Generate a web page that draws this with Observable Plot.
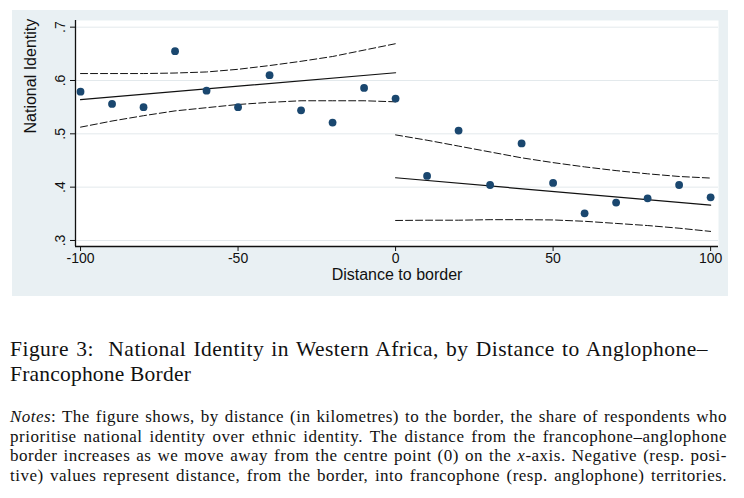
<!DOCTYPE html>
<html>
<head>
<meta charset="utf-8">
<script src="https://cdn.jsdelivr.net/npm/d3@7"></script>
<script src="https://cdn.jsdelivr.net/npm/@observablehq/plot@0.6"></script>
<style>
  html, body { margin: 0; padding: 0; background: #fff; }
  body { width: 744px; height: 498px; position: relative; overflow: hidden; }
  #panel { position: absolute; left: 12px; top: 10px; width: 716px; height: 286px; background: #e9f0f3; }
  .cap { position: absolute; left: 10px; font-family: "Liberation Serif", serif; color: #111; white-space: nowrap; }
  .c1 { font-size: 21.5px; line-height: 25px; }
  .n1 { font-size: 17px; line-height: 19.5px; }
  .just { text-align: justify; text-align-last: justify; }
</style>
</head>
<body>
<div id="panel"></div>
<div class="cap c1 just" data-w="698" style="top:337px; width:698px;">Figure 3:&nbsp; National Identity in Western Africa, by Distance to Anglophone–</div>
<div class="cap c1" data-w="181" style="top:362px;">Francophone Border</div>
<div class="cap n1 just" data-w="717" style="top:407px; width:717px;"><i>Notes</i>: The figure shows, by distance (in kilometres) to the border, the share of respondents who</div>
<div class="cap n1 just" data-w="717" style="top:426.5px; width:717px;">prioritise national identity over ethnic identity. The distance from the francophone–anglophone</div>
<div class="cap n1 just" data-w="717" style="top:446px; width:717px;">border increases as we move away from the centre point (0) on the <i>x</i>-axis. Negative (resp. posi-</div>
<div class="cap n1 just" data-w="717" style="top:465.5px; width:717px;">tive) values represent distance, from the border, into francophone (resp. anglophone) territories.</div>
<script>
// Binned scatter: distance to border (km) and share prioritising national identity
const xLeft  = [-100, -90, -80, -70, -60, -50, -40, -30, -20, -10, 0];
const yLeft  = [0.579, 0.556, 0.550, 0.655, 0.581, 0.550, 0.610, 0.544, 0.521, 0.586, 0.566];
const xRight = [10, 20, 30, 40, 50, 60, 70, 80, 90, 100];
const yRight = [0.421, 0.506, 0.404, 0.482, 0.408, 0.351, 0.371, 0.379, 0.404, 0.381];

// Linear fits (endpoints)
const fitLeftX  = [-100, 0];
const fitLeftY  = [0.564, 0.6145];
const fitRightX = [0, 100];
const fitRightY = [0.4176, 0.3663];

// Confidence bands
const ciLeftX  = [-100, -90, -80, -70, -60, -50, -40, -30, -20, -10, 0];
const ciLeftHi = [0.613, 0.613, 0.613, 0.614, 0.616, 0.621, 0.628, 0.636, 0.645, 0.657, 0.669];
const ciLeftLo = [0.5125, 0.524, 0.534, 0.543, 0.549, 0.555, 0.559, 0.562, 0.562, 0.562, 0.560];
const ciRightX  = [0, 10, 20, 30, 40, 50, 60, 70, 80, 90, 100];
const ciRightHi = [0.498, 0.488, 0.477, 0.466, 0.455, 0.446, 0.438, 0.431, 0.425, 0.420, 0.417];
const ciRightLo = [0.3375, 0.338, 0.338, 0.339, 0.339, 0.3385, 0.336, 0.332, 0.328, 0.323, 0.317];

const xTicks = [-100, -50, 0, 50, 100];
const yTicks = [0.3, 0.4, 0.5, 0.6, 0.7];
const xTitle = "Distance to border";
const yTitle = "National Identity";

const xDomain = [-101.6, 102.5];
const yDomain = [0.2887, 0.7125];

const pts = xLeft.map((x, i) => ({x, y: yLeft[i]})).concat(xRight.map((x, i) => ({x, y: yRight[i]})));
const zip = (xs, ys) => xs.map((x, i) => ({x, y: ys[i]}));

const chart = Plot.plot({
  width: 716,
  height: 286,
  marginLeft: 63,
  marginRight: 10,
  marginTop: 10,
  marginBottom: 50,
  style: { background: "transparent", fontFamily: "Liberation Sans, Arial, sans-serif", color: "#111" },
  x: { domain: xDomain },
  y: { domain: yDomain },
  marks: [
    Plot.frame({ fill: "white", stroke: null }),
    Plot.gridY(yTicks, { stroke: "#e3e9ec", strokeOpacity: 1, strokeWidth: 1 }),
    Plot.line(zip(ciLeftX, ciLeftHi), { x: "x", y: "y", stroke: "#111", strokeWidth: 1, strokeDasharray: "7,3" }),
    Plot.line(zip(ciLeftX, ciLeftLo), { x: "x", y: "y", stroke: "#111", strokeWidth: 1, strokeDasharray: "7,3" }),
    Plot.line(zip(ciRightX, ciRightHi), { x: "x", y: "y", stroke: "#111", strokeWidth: 1, strokeDasharray: "7,3" }),
    Plot.line(zip(ciRightX, ciRightLo), { x: "x", y: "y", stroke: "#111", strokeWidth: 1, strokeDasharray: "7,3" }),
    Plot.line(zip(fitLeftX, fitLeftY), { x: "x", y: "y", stroke: "#111", strokeWidth: 1.2 }),
    Plot.line(zip(fitRightX, fitRightY), { x: "x", y: "y", stroke: "#111", strokeWidth: 1.2 }),
    Plot.dot(pts, { x: "x", y: "y", r: 3.9, fill: "#1a476f", stroke: null }),
    Plot.ruleX([xDomain[0]], { stroke: "#111", strokeWidth: 1.3 }),
    Plot.ruleY([yDomain[0]], { stroke: "#111", strokeWidth: 1.3 }),
    Plot.axisY(yTicks, { tickRotate: -90, tickSize: 5, tickPadding: 6, fontSize: 14, tickFormat: d => String(d).replace(/^0/, ""), label: null, stroke: "#111" }),
    Plot.axisX(xTicks, { tickSize: 5, tickPadding: 2, fontSize: 14, tickFormat: d => String(d), label: null, stroke: "#111" }),
    Plot.text([yTitle], { frameAnchor: "left", rotate: -90, dx: -45, fontSize: 16, fill: "#111" }),
    Plot.text([xTitle], { frameAnchor: "bottom", dy: 33, fontSize: 16, fill: "#111" })
  ]
});
document.getElementById("panel").appendChild(chart);

// Widen caption glyph spacing (to mimic Computer Modern width), leaving the rest to justification
document.querySelectorAll(".cap").forEach(el => {
  const target = +el.dataset.w;
  const probe = el.cloneNode(true);
  probe.style.width = "auto";
  probe.style.textAlign = "left";
  probe.style.textAlignLast = "auto";
  probe.style.visibility = "hidden";
  document.body.appendChild(probe);
  const natural = probe.getBoundingClientRect().width;
  const n = probe.textContent.length;
  probe.remove();
  const extra = target - natural;
  if (extra > 0) {
    const ls = el.classList.contains("just") ? (extra * 0.7) / n : extra / n;
    el.style.letterSpacing = ls.toFixed(3) + "px";
  }
});
</script>
</body>
</html>
